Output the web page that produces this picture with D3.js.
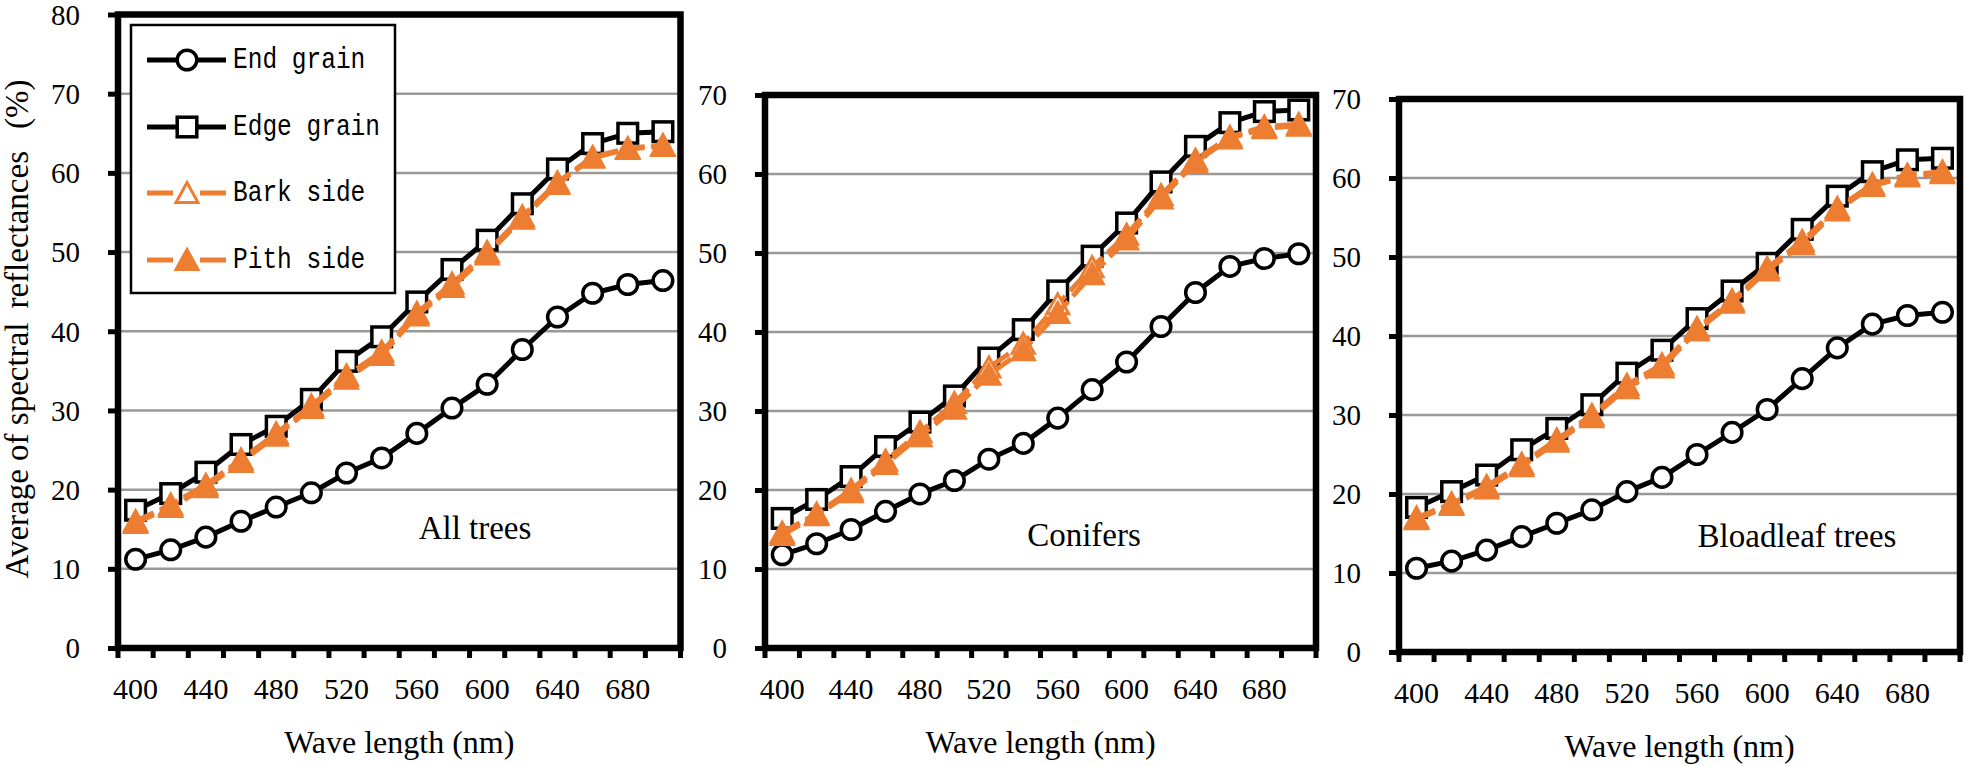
<!DOCTYPE html>
<html>
<head>
<meta charset="utf-8">
<script src="https://cdn.jsdelivr.net/npm/d3@7"></script>
<style>
  html, body { margin: 0; padding: 0; background: #fff; }
  svg { display: block; }
</style>
</head>
<body>
<svg id="chart" width="1965" height="766"></svg>
<script>
// ---------------- DATA ----------------
const wavelengths = [400, 420, 440, 460, 480, 500, 520, 540, 560, 580, 600, 620, 640, 660, 680, 700];
const xTickLabels = [400, 440, 480, 520, 560, 600, 640, 680];
const seriesNames = ["End grain", "Edge grain", "Bark side", "Pith side"];
const panelTitles = ["All trees", "Conifers", "Bloadleaf trees"];
const yMaxes = [80, 70, 70];
const yTicksAll = [0, 10, 20, 30, 40, 50, 60, 70, 80];
const yTicksSub = [0, 10, 20, 30, 40, 50, 60, 70];
const yAxisTitleParts = ["Average of spectral", "reflectances", "(%)"];
const xAxisTitle = "Wave length (nm)";

// All trees
const allEnd  = [11.2, 12.4, 14.0, 16.0, 17.8, 19.6, 22.1, 24.0, 27.1, 30.3, 33.3, 37.7, 41.8, 44.8, 45.9, 46.4];
const allEdge = [17.4, 19.5, 22.2, 25.7, 28.0, 31.4, 36.2, 39.3, 43.7, 47.8, 51.5, 56.1, 60.5, 63.7, 65.0, 65.2];
const allBark = [16.0, 18.1, 20.6, 23.8, 27.1, 30.6, 34.4, 37.4, 42.3, 46.0, 50.0, 54.5, 58.8, 62.0, 63.1, 63.5];
const allPith = [15.8, 17.8, 20.3, 23.5, 26.8, 30.3, 34.0, 37.0, 42.0, 45.6, 49.7, 54.2, 58.6, 61.9, 63.0, 63.4];
// Conifers
const conEnd  = [11.8, 13.2, 15.0, 17.3, 19.5, 21.2, 23.9, 25.9, 29.1, 32.7, 36.2, 40.7, 45.0, 48.3, 49.3, 49.9];
const conEdge = [16.4, 18.8, 21.7, 25.5, 28.6, 31.9, 36.7, 40.3, 45.2, 49.6, 53.8, 59.0, 63.5, 66.5, 67.9, 68.1];
const conBark = [14.6, 17.0, 20.0, 23.7, 27.3, 31.0, 35.5, 38.5, 43.5, 48.2, 52.3, 57.3, 61.8, 64.7, 66.0, 66.3];
const conPith = [14.3, 16.8, 19.7, 23.3, 26.8, 30.3, 34.6, 37.7, 42.4, 47.3, 51.7, 56.9, 61.5, 64.5, 65.8, 66.1];
// Bloadleaf trees
const broEnd  = [10.6, 11.5, 12.9, 14.6, 16.3, 18.0, 20.3, 22.1, 25.0, 27.8, 30.7, 34.6, 38.5, 41.5, 42.6, 43.0];
const broEdge = [18.3, 20.3, 22.4, 25.6, 28.3, 31.3, 35.3, 38.2, 42.2, 45.7, 49.2, 53.5, 57.7, 60.8, 62.3, 62.5];
const broBark = [17.0, 18.8, 21.0, 23.8, 26.9, 30.0, 33.8, 36.4, 41.0, 44.5, 48.6, 52.0, 56.2, 59.2, 60.4, 60.8];
const broPith = [16.8, 18.6, 20.7, 23.5, 26.6, 29.7, 33.4, 36.0, 40.7, 44.2, 48.3, 51.6, 55.9, 59.0, 60.2, 60.6];

const panelSeries = [
  [allEnd, allEdge, allBark, allPith],
  [conEnd, conEdge, conBark, conPith],
  [broEnd, broEdge, broBark, broPith]
];

// ---------------- STYLE / LAYOUT ----------------
const ORANGE = "#ED7D31";
const serif = "'Liberation Serif', 'Times New Roman', serif";
const mono = "'Liberation Mono', 'Courier New', monospace";
const layout = [
  {left: 118, right: 680.5, top: 14.5, bottom: 648, yTicks: yTicksAll, title: [475, 528]},
  {left: 765, right: 1316, top: 95, bottom: 648, yTicks: yTicksSub, title: [1084, 535]},
  {left: 1399, right: 1960, top: 99, bottom: 652, yTicks: yTicksSub, title: [1797, 536]}
];
const seriesStyle = [
  {stroke: "#000", dash: null, marker: "circle", fill: "#fff", mstroke: "#000"},
  {stroke: "#000", dash: null, marker: "square", fill: "#fff", mstroke: "#000"},
  {stroke: ORANGE, dash: "20,7", marker: "triangle", fill: "#fff", mstroke: ORANGE},
  {stroke: ORANGE, dash: "20,7", marker: "triangle", fill: ORANGE, mstroke: ORANGE}
];

const svg = d3.select("#chart");

function drawMarker(g, type, x, y, fill, stroke) {
  if (type === "circle") {
    g.append("circle").attr("cx", x).attr("cy", y).attr("r", 9.8)
      .attr("fill", fill).attr("stroke", stroke).attr("stroke-width", 3.5);
  } else if (type === "square") {
    g.append("rect").attr("x", x - 9.8).attr("y", y - 9.8).attr("width", 19.6).attr("height", 19.6)
      .attr("fill", fill).attr("stroke", stroke).attr("stroke-width", 3.5);
  } else {
    g.append("path").attr("d", `M${x},${y - 10.5} L${x + 11},${y + 9.5} L${x - 11},${y + 9.5} Z`)
      .attr("fill", fill).attr("stroke", stroke).attr("stroke-width", 3).attr("stroke-linejoin", "miter");
  }
}

layout.forEach((L, pi) => {
  const g = svg.append("g");
  const x = d3.scaleBand().domain(wavelengths).range([L.left, L.right]).padding(0);
  const y = d3.scaleLinear().domain([0, yMaxes[pi]]).range([L.bottom, L.top]);
  const bw = x.bandwidth();
  const cx = w => x(w) + bw / 2;

  // gridlines
  g.append("g").selectAll("line").data(L.yTicks.filter(t => t > 0 && t < yMaxes[pi]))
    .join("line")
    .attr("x1", L.left).attr("x2", L.right)
    .attr("y1", d => y(d)).attr("y2", d => y(d))
    .attr("stroke", "#999").attr("stroke-width", 2.5);

  // y axis (ticks + labels) via d3 axis
  const yAxis = d3.axisLeft(y).tickValues(L.yTicks).tickSize(10).tickPadding(28).tickFormat(d3.format("d"));
  const ya = g.append("g").attr("transform", `translate(${L.left},0)`).call(yAxis)
    .attr("font-family", serif);
  ya.select(".domain").remove();
  ya.selectAll(".tick line").attr("stroke", "#000").attr("stroke-width", 5);
  ya.selectAll(".tick text").attr("font-family", serif).attr("font-size", 29).attr("fill", "#000")
    .attr("dy", "0.34em");

  // x ticks at band boundaries
  const boundaries = wavelengths.map(w => x(w)).concat([L.right]);
  g.append("g").selectAll("line").data(boundaries).join("line")
    .attr("x1", d => d).attr("x2", d => d)
    .attr("y1", L.bottom).attr("y2", L.bottom + 10)
    .attr("stroke", "#000").attr("stroke-width", 5);

  // x labels
  const xAxis = d3.axisBottom(x).tickValues(xTickLabels).tickSize(0).tickPadding(30);
  const xa = g.append("g").attr("transform", `translate(0,${L.bottom})`).call(xAxis)
    .attr("font-family", serif);
  xa.select(".domain").remove();
  xa.selectAll(".tick text").attr("font-family", serif).attr("font-size", 30).attr("fill", "#000");

  // x title
  g.append("text").attr("x", (L.left + L.right) / 2).attr("y", L.bottom + 94)
    .attr("text-anchor", "middle").attr("dominant-baseline", "central")
    .attr("font-family", serif).attr("font-size", 32).text(xAxisTitle);

  // series
  panelSeries[pi].forEach((vals, si) => {
    const st = seriesStyle[si];
    const sg = g.append("g");
    const line = d3.line().x((d, i) => cx(wavelengths[i])).y(d => y(d));
    sg.append("path").attr("d", line(vals)).attr("fill", "none")
      .attr("stroke", st.stroke).attr("stroke-width", 5)
      .attr("stroke-dasharray", st.dash).attr("stroke-linejoin", "round");
    vals.forEach((v, i) => drawMarker(sg, st.marker, cx(wavelengths[i]), y(v), st.fill, st.mstroke));
  });

  // panel title
  g.append("text").attr("x", L.title[0]).attr("y", L.title[1])
    .attr("text-anchor", "middle").attr("dominant-baseline", "central")
    .attr("font-family", serif).attr("font-size", 33).text(panelTitles[pi]);

  // frame
  g.append("rect").attr("x", L.left).attr("y", L.top)
    .attr("width", L.right - L.left).attr("height", L.bottom - L.top)
    .attr("fill", "none").attr("stroke", "#000").attr("stroke-width", 6.5);
});

// y axis title
const yt = svg.append("text")
  .attr("transform", "translate(17,329) rotate(-90)")
  .attr("text-anchor", "middle").attr("dominant-baseline", "central")
  .attr("font-family", serif).attr("font-size", 33);
const ytGaps = [0, 14, 22];
yAxisTitleParts.forEach((p, i) => {
  yt.append("tspan").attr("dx", ytGaps[i]).text(p);
});

// legend
const lg = svg.append("g");
lg.append("rect").attr("x", 131).attr("y", 25).attr("width", 264).attr("height", 268)
  .attr("fill", "#fff").attr("stroke", "#000").attr("stroke-width", 2.5);
const legendY = [60, 127, 193, 260];
seriesNames.forEach((name, si) => {
  const st = seriesStyle[si];
  const yy = legendY[si];
  lg.append("line").attr("x1", 147).attr("x2", 226).attr("y1", yy).attr("y2", yy)
    .attr("stroke", st.stroke).attr("stroke-width", 5).attr("stroke-dasharray", st.dash ? "26,27,26" : null);
  drawMarker(lg, st.marker, 187, yy, st.fill, st.mstroke);
  lg.append("text").attr("x", 233).attr("y", yy)
    .attr("dominant-baseline", "central")
    .attr("font-family", mono).attr("font-size", 29)
    .attr("textLength", name.length * 14.7).attr("lengthAdjust", "spacingAndGlyphs")
    .text(name);
});
</script>
</body>
</html>
